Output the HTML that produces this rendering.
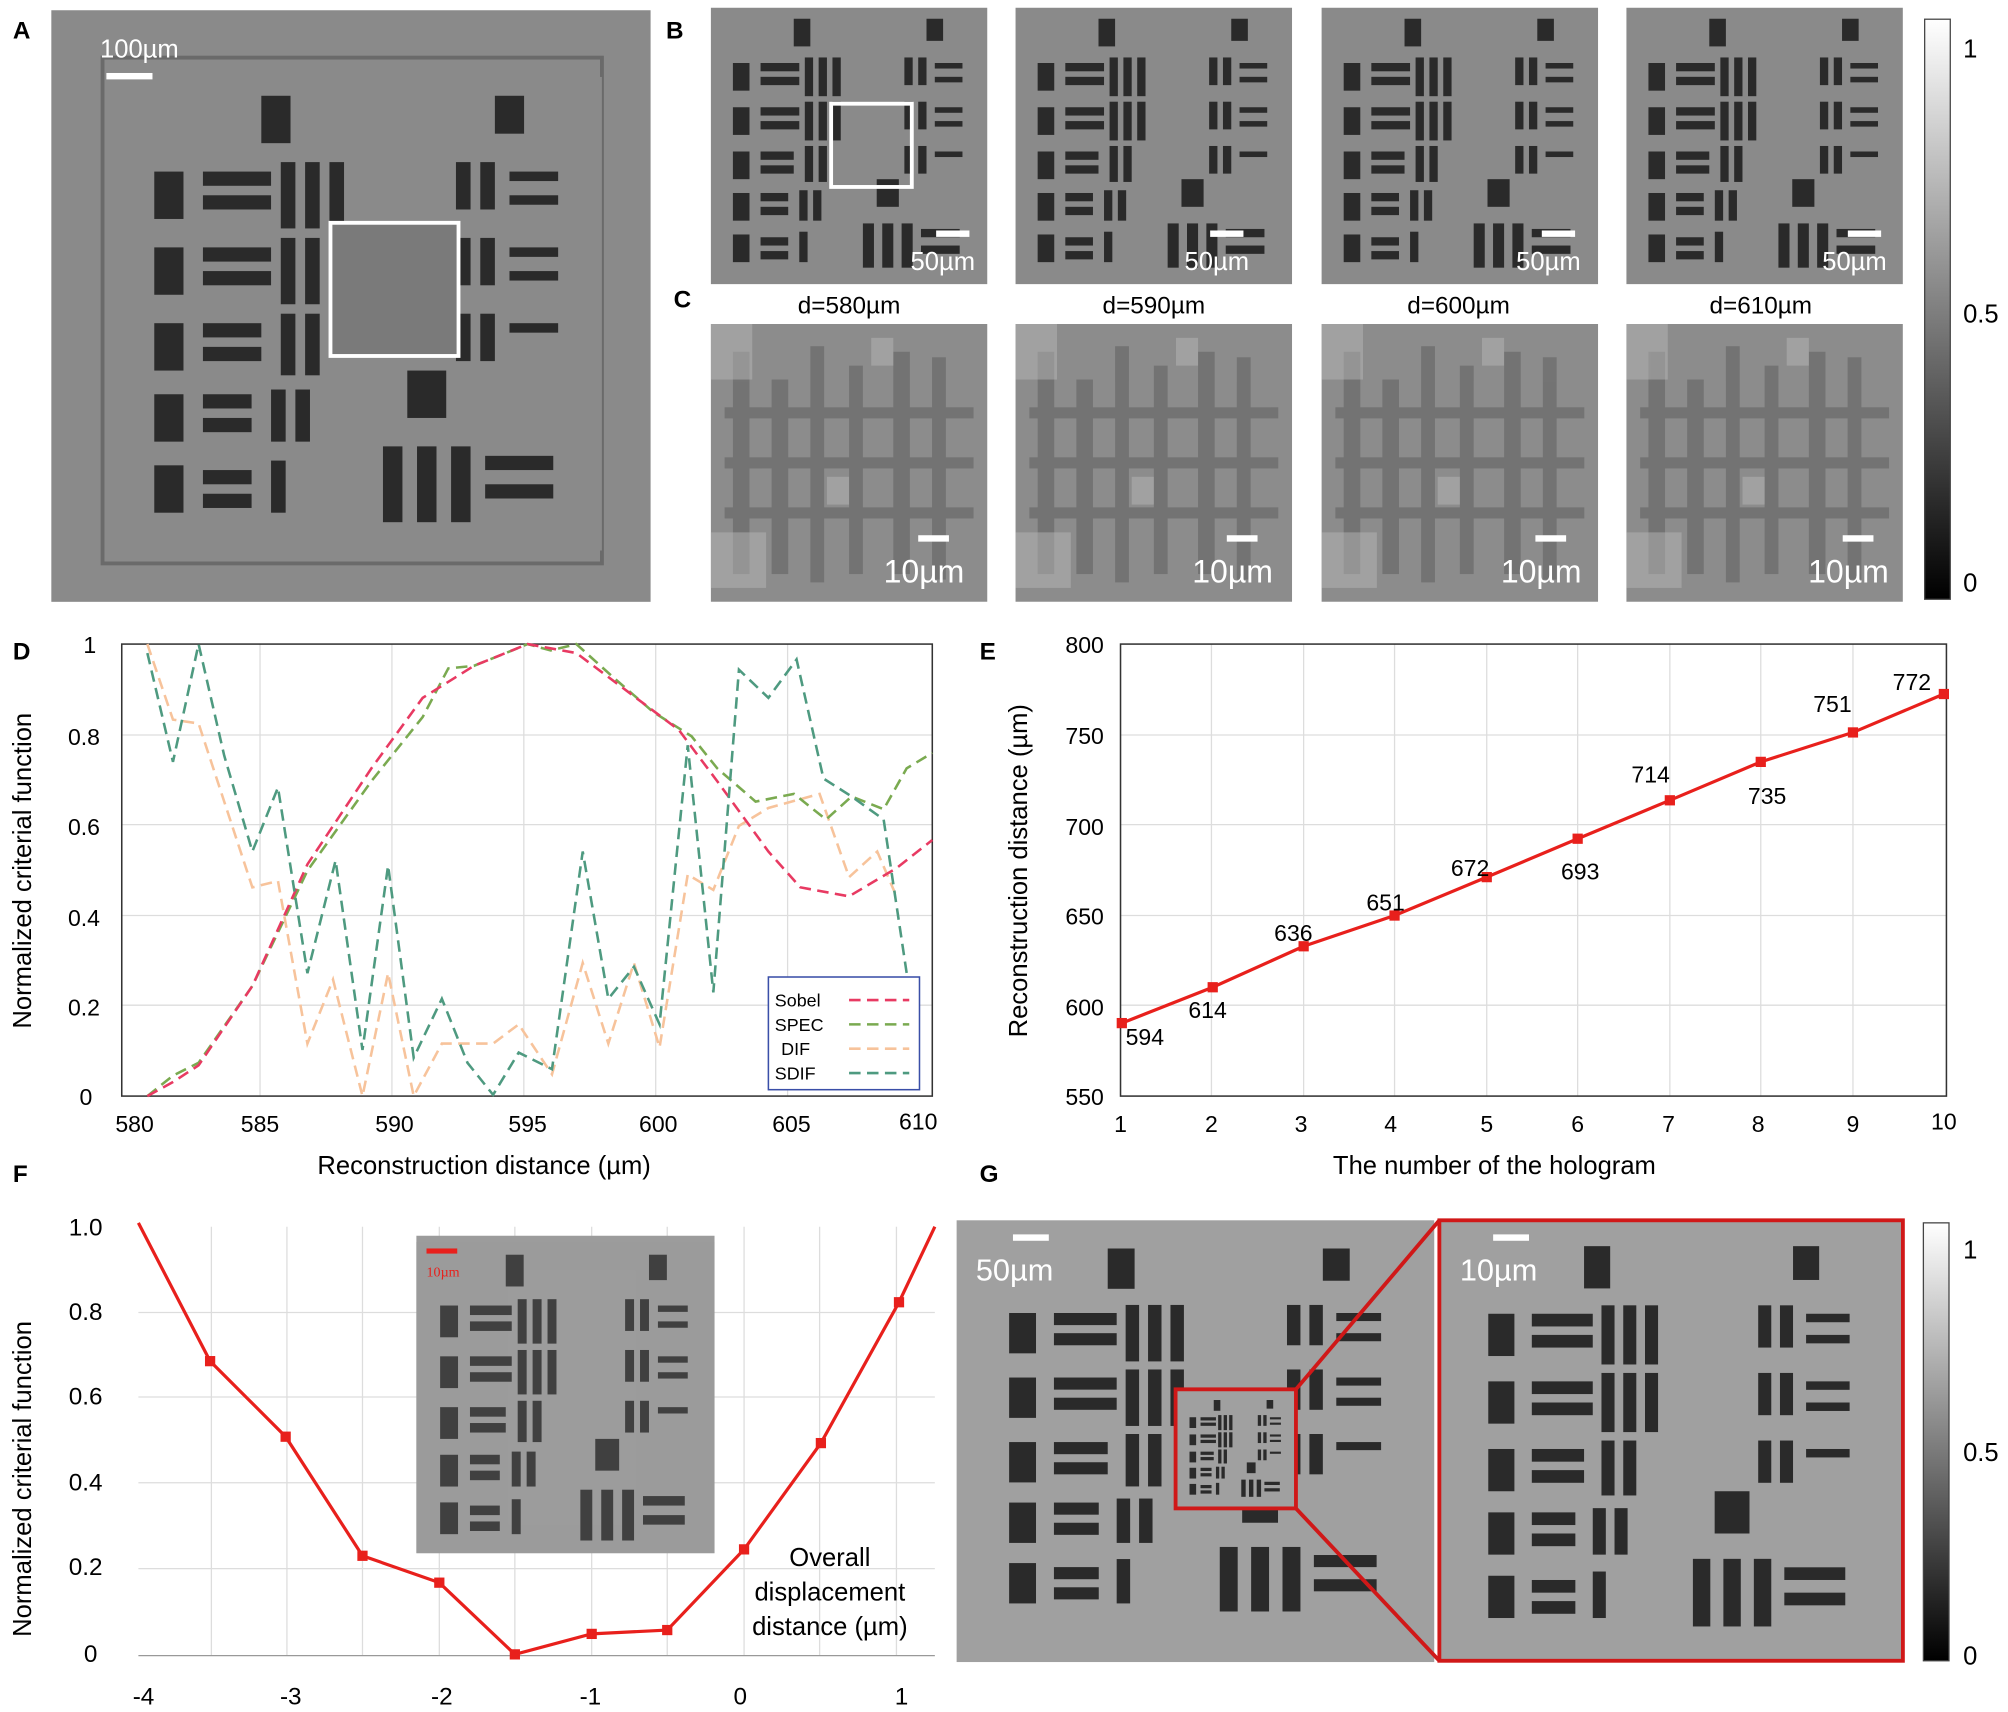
<!DOCTYPE html>
<html><head><meta charset="utf-8"><style>
html,body{margin:0;padding:0;background:#fff;}
svg{display:block;}
text{font-family:"Liberation Sans",sans-serif;}
.s{font-family:"Liberation Serif",serif;}
</style></head><body>
<svg width="2008" height="1712" viewBox="0 0 1568 1337" xmlns="http://www.w3.org/2000/svg">
<defs>
<linearGradient id="cb" x1="0" y1="0" x2="0" y2="1"><stop offset="0" stop-color="#fff"/><stop offset="1" stop-color="#000"/></linearGradient>
<g id="usaf">
 <rect x="0" y="0" width="100" height="100" fill="currentColor"/>
 <g fill="#2a2a2a">
 <rect x="8" y="20" width="6" height="10"/><rect x="18" y="20" width="14" height="3"/><rect x="18" y="25" width="14" height="3"/><rect x="34" y="18" width="3" height="14"/><rect x="39" y="18" width="3" height="14"/><rect x="44" y="18" width="3" height="14"/>
 <rect x="8" y="36" width="6" height="10"/><rect x="18" y="36" width="14" height="3"/><rect x="18" y="41" width="14" height="3"/><rect x="34" y="34" width="3" height="14"/><rect x="39" y="34" width="3" height="14"/><rect x="44" y="34" width="3" height="14"/>
 <rect x="8" y="52" width="6" height="10"/><rect x="18" y="52" width="12" height="3"/><rect x="18" y="57" width="12" height="3"/><rect x="34" y="50" width="3" height="13"/><rect x="39" y="50" width="3" height="13"/>
 <rect x="8" y="67" width="6" height="10"/><rect x="18" y="67" width="10" height="3"/><rect x="18" y="72" width="10" height="3"/><rect x="32" y="66" width="3" height="11"/><rect x="37" y="66" width="3" height="11"/>
 <rect x="8" y="82" width="6" height="10"/><rect x="18" y="83" width="10" height="3"/><rect x="18" y="88" width="10" height="3"/><rect x="32" y="81" width="3" height="11"/>
 <rect x="30" y="4" width="6" height="10"/>
 <rect x="70" y="18" width="3" height="10"/><rect x="75" y="18" width="3" height="10"/><rect x="81" y="20" width="10" height="2"/><rect x="81" y="25" width="10" height="2"/>
 <rect x="70" y="34" width="3" height="10"/><rect x="75" y="34" width="3" height="10"/><rect x="81" y="36" width="10" height="2"/><rect x="81" y="41" width="10" height="2"/>
 <rect x="70" y="50" width="3" height="10"/><rect x="75" y="50" width="3" height="10"/><rect x="81" y="52" width="10" height="2"/>
 <rect x="55" y="78" width="4" height="16"/><rect x="62" y="78" width="4" height="16"/><rect x="69" y="78" width="4" height="16"/><rect x="76" y="80" width="14" height="3"/><rect x="76" y="86" width="14" height="3"/>
 <rect x="60" y="62" width="8" height="10"/><rect x="78" y="4" width="6" height="8"/>
 </g>
</g>
<g id="blur"><rect x="0" y="0" width="100" height="100" fill="#8c8c8c"/>
 <g fill="#606060" opacity="0.55">
 <rect x="8" y="10" width="6" height="80"/><rect x="22" y="20" width="6" height="70"/><rect x="36" y="8" width="5" height="85"/><rect x="50" y="15" width="5" height="75"/><rect x="66" y="10" width="6" height="80"/><rect x="80" y="12" width="5" height="80"/>
 <rect x="5" y="30" width="90" height="4"/><rect x="5" y="48" width="90" height="4"/><rect x="5" y="66" width="90" height="4"/></g>
 <g fill="#b5b5b5" opacity="0.5">
 <rect x="0" y="0" width="15" height="20"/><rect x="58" y="5" width="8" height="10"/><rect x="0" y="75" width="20" height="20"/><rect x="42" y="55" width="8" height="10"/></g>
</g>
</defs>

<!-- Panel A -->
<text x="10" y="30" font-size="19" font-weight="bold">A</text>
<rect x="40" y="8" width="468" height="462" fill="#8a8a8a"/>
<rect x="80" y="45" width="390" height="395" fill="none" stroke="#6a6a6a" stroke-width="3"/>
<svg x="90" y="60" width="380" height="370" viewBox="0 0 100 100" preserveAspectRatio="none" style="color:#8a8a8a"><use href="#usaf"/></svg>
<rect x="258" y="174" width="100" height="104" fill="#7a7a7a" stroke="#fff" stroke-width="3"/>
<rect x="83" y="57" width="36" height="5" fill="#fff"/>
<text x="78" y="45" font-size="20" fill="#fff">100µm</text>

<!-- Panel B / C -->
<text x="520" y="30" font-size="19" font-weight="bold">B</text>
<text x="526" y="240" font-size="19" font-weight="bold">C</text>
<g style="color:#8a8a8a">
<svg x="555" y="6" width="216" height="216" viewBox="0 0 100 100" preserveAspectRatio="none"><use href="#usaf"/></svg>
<svg x="793" y="6" width="216" height="216" viewBox="0 0 100 100" preserveAspectRatio="none"><use href="#usaf"/></svg>
<svg x="1032" y="6" width="216" height="216" viewBox="0 0 100 100" preserveAspectRatio="none"><use href="#usaf"/></svg>
<svg x="1270" y="6" width="216" height="216" viewBox="0 0 100 100" preserveAspectRatio="none"><use href="#usaf"/></svg>
</g>
<rect x="649" y="81" width="63" height="65" fill="none" stroke="#fff" stroke-width="3"/>
<g fill="#fff" font-size="20">
<rect x="731" y="180" width="26" height="5"/><text x="711" y="211">50µm</text>
<rect x="945" y="180" width="26" height="5"/><text x="925" y="211">50µm</text>
<rect x="1204" y="180" width="26" height="5"/><text x="1184" y="211">50µm</text>
<rect x="1443" y="180" width="26" height="5"/><text x="1423" y="211">50µm</text>
</g>
<g font-size="19" text-anchor="middle">
<text x="663" y="245">d=580µm</text><text x="901" y="245">d=590µm</text><text x="1139" y="245">d=600µm</text><text x="1375" y="245">d=610µm</text>
</g>
<svg x="555" y="253" width="216" height="217" viewBox="0 0 100 100" preserveAspectRatio="none"><use href="#blur"/></svg>
<svg x="793" y="253" width="216" height="217" viewBox="0 0 100 100" preserveAspectRatio="none"><use href="#blur"/></svg>
<svg x="1032" y="253" width="216" height="217" viewBox="0 0 100 100" preserveAspectRatio="none"><use href="#blur"/></svg>
<svg x="1270" y="253" width="216" height="217" viewBox="0 0 100 100" preserveAspectRatio="none"><use href="#blur"/></svg>
<g fill="#fff" font-size="25">
<rect x="717" y="418" width="24" height="5"/><text x="690" y="455">10µm</text>
<rect x="958" y="418" width="24" height="5"/><text x="931" y="455">10µm</text>
<rect x="1199" y="418" width="24" height="5"/><text x="1172" y="455">10µm</text>
<rect x="1439" y="418" width="24" height="5"/><text x="1412" y="455">10µm</text>
</g>
<rect x="1503" y="15" width="20" height="453" fill="url(#cb)" stroke="#444" stroke-width="1"/>
<g font-size="20"><text x="1533" y="45">1</text><text x="1533" y="252">0.5</text><text x="1533" y="462">0</text></g>

<!-- Panel D -->
<text x="10" y="515" font-size="19" font-weight="bold">D</text>
<g stroke="#ddd" stroke-width="1">
<line x1="95" y1="574" x2="728" y2="574"/><line x1="95" y1="644" x2="728" y2="644"/><line x1="95" y1="715" x2="728" y2="715"/><line x1="95" y1="785" x2="728" y2="785"/>
<line x1="203" y1="503" x2="203" y2="856"/><line x1="306" y1="503" x2="306" y2="856"/><line x1="409" y1="503" x2="409" y2="856"/><line x1="512" y1="503" x2="512" y2="856"/><line x1="615" y1="503" x2="615" y2="856"/>
</g>
<rect x="95" y="503" width="633" height="353" fill="none" stroke="#333" stroke-width="1.2"/>
<g font-size="18" text-anchor="end"><text x="75" y="510">1</text><text x="78" y="582">0.8</text><text x="78" y="652">0.6</text><text x="78" y="723">0.4</text><text x="78" y="793">0.2</text><text x="72" y="863">0</text></g>
<g font-size="18" text-anchor="middle"><text x="105" y="884">580</text><text x="203" y="884">585</text><text x="308" y="884">590</text><text x="412" y="884">595</text><text x="514" y="884">600</text><text x="618" y="884">605</text><text x="717" y="882">610</text></g>
<text x="378" y="917" font-size="20" text-anchor="middle">Reconstruction distance (µm)</text>
<text transform="translate(24,680) rotate(-90)" font-size="20" text-anchor="middle">Normalized criterial function</text>
<g fill="none" stroke-width="2" stroke-dasharray="9,5">
<polyline stroke="#f7c39b" points="115,503 135,562 155,565 197,693 217,688 240,815 260,765 283,856 303,760 323,856 345,815 385,815 405,800 431,839 455,752 475,815 495,752 515,818 537,683 557,695 577,645 600,631 640,620 663,685 685,665 700,700"/>
<polyline stroke="#7aaa50" points="115,856 135,840 155,830 197,770 240,680 290,610 330,560 350,522 370,520 390,512 412,503 430,508 450,503 480,530 510,556 540,575 560,600 590,626 620,620 645,640 665,622 690,632 708,600 728,588"/>
<polyline stroke="#e83a62" points="115,856 135,845 155,832 197,770 240,675 290,600 330,545 370,520 412,503 450,510 490,540 530,570 560,610 600,665 625,693 663,700 700,678 728,656"/>
<polyline stroke="#4e9a80" points="115,510 135,595 155,503 175,590 197,665 217,615 240,760 262,672 283,820 303,676 323,826 345,780 365,830 385,855 405,822 431,835 455,665 475,780 495,755 515,800 537,582 557,775 577,523 600,545 622,515 643,608 665,622 690,640 708,760"/>
</g>
<rect x="600" y="763" width="118" height="88" fill="#fff" stroke="#3a4fa8" stroke-width="1.2"/>
<g class="s" font-size="14"><text x="605" y="786">Sobel</text><text x="605" y="805">SPEC</text><text x="610" y="824">DIF</text><text x="605" y="843">SDIF</text></g>
<g stroke-width="2" stroke-dasharray="9,5"><line x1="663" y1="781" x2="710" y2="781" stroke="#e83a62"/><line x1="663" y1="800" x2="710" y2="800" stroke="#7aaa50"/><line x1="663" y1="819" x2="710" y2="819" stroke="#f7c39b"/><line x1="663" y1="838" x2="710" y2="838" stroke="#4e9a80"/></g>

<!-- Panel E -->
<text x="765" y="515" font-size="19" font-weight="bold">E</text>
<g stroke="#ddd" stroke-width="1">
<line x1="875" y1="574" x2="1520" y2="574"/><line x1="875" y1="644" x2="1520" y2="644"/><line x1="875" y1="715" x2="1520" y2="715"/><line x1="875" y1="785" x2="1520" y2="785"/>
<line x1="946" y1="503" x2="946" y2="856"/><line x1="1018" y1="503" x2="1018" y2="856"/><line x1="1089" y1="503" x2="1089" y2="856"/><line x1="1161" y1="503" x2="1161" y2="856"/><line x1="1232" y1="503" x2="1232" y2="856"/><line x1="1304" y1="503" x2="1304" y2="856"/><line x1="1375" y1="503" x2="1375" y2="856"/><line x1="1447" y1="503" x2="1447" y2="856"/>
</g>
<rect x="875" y="503" width="645" height="353" fill="none" stroke="#333" stroke-width="1.2"/>
<g font-size="18" text-anchor="end"><text x="862" y="510">800</text><text x="862" y="581">750</text><text x="862" y="652">700</text><text x="862" y="722">650</text><text x="862" y="793">600</text><text x="862" y="863">550</text></g>
<g font-size="18" text-anchor="middle"><text x="875" y="884">1</text><text x="946" y="884">2</text><text x="1016" y="884">3</text><text x="1086" y="884">4</text><text x="1161" y="884">5</text><text x="1232" y="884">6</text><text x="1303" y="884">7</text><text x="1373" y="884">8</text><text x="1447" y="884">9</text><text x="1518" y="882">10</text></g>
<text x="1167" y="917" font-size="20" text-anchor="middle">The number of the hologram</text>
<text transform="translate(802,680) rotate(-90)" font-size="20" text-anchor="middle">Reconstruction distance (µm)</text>
<polyline fill="none" stroke="#e8201c" stroke-width="2.5" points="876,799 947,771 1018,739 1089,715 1161,685 1232,655 1304,625 1375,595 1447,572 1518,542"/>
<g fill="#e8201c"><rect x="872" y="795" width="8" height="8"/><rect x="943" y="767" width="8" height="8"/><rect x="1014" y="735" width="8" height="8"/><rect x="1085" y="711" width="8" height="8"/><rect x="1157" y="681" width="8" height="8"/><rect x="1228" y="651" width="8" height="8"/><rect x="1300" y="621" width="8" height="8"/><rect x="1371" y="591" width="8" height="8"/><rect x="1443" y="568" width="8" height="8"/><rect x="1514" y="538" width="8" height="8"/></g>
<g font-size="18" text-anchor="middle"><text x="894" y="816">594</text><text x="943" y="795">614</text><text x="1010" y="735">636</text><text x="1082" y="711">651</text><text x="1148" y="684">672</text><text x="1234" y="687">693</text><text x="1289" y="611">714</text><text x="1380" y="628">735</text><text x="1431" y="556">751</text><text x="1493" y="539">772</text></g>

<!-- Panel F -->
<text x="10" y="923" font-size="19" font-weight="bold">F</text>
<g stroke="#ddd" stroke-width="1">
<line x1="108" y1="1025" x2="730" y2="1025"/><line x1="108" y1="1091" x2="730" y2="1091"/><line x1="108" y1="1158" x2="730" y2="1158"/><line x1="108" y1="1225" x2="730" y2="1225"/>
<line x1="165" y1="958" x2="165" y2="1293"/><line x1="224" y1="958" x2="224" y2="1293"/><line x1="283" y1="958" x2="283" y2="1293"/><line x1="343" y1="958" x2="343" y2="1293"/><line x1="402" y1="958" x2="402" y2="1293"/><line x1="462" y1="958" x2="462" y2="1293"/><line x1="521" y1="958" x2="521" y2="1293"/><line x1="581" y1="958" x2="581" y2="1293"/><line x1="640" y1="958" x2="640" y2="1293"/><line x1="700" y1="958" x2="700" y2="1293"/>
</g>
<line x1="108" y1="1293" x2="730" y2="1293" stroke="#999"/>
<g class="s" font-size="19" text-anchor="end"><text x="80" y="965">1.0</text><text x="80" y="1031">0.8</text><text x="80" y="1097">0.6</text><text x="80" y="1164">0.4</text><text x="80" y="1230">0.2</text><text x="76" y="1298">0</text></g>
<g class="s" font-size="19" text-anchor="middle"><text x="112" y="1331">-4</text><text x="227" y="1331">-3</text><text x="345" y="1331">-2</text><text x="461" y="1331">-1</text><text x="578" y="1331">0</text><text x="704" y="1331">1</text></g>
<text transform="translate(24,1155) rotate(-90)" font-size="20" text-anchor="middle">Normalized criterial function</text>
<svg x="325" y="965" width="233" height="248" viewBox="0 0 100 100" preserveAspectRatio="none" style="color:#9c9c9c"><rect width="100" height="100" fill="#9c9c9c"/><g transform="translate(0,2)" opacity="0.8"><use href="#usaf"/></g></svg>
<rect x="333" y="975" width="24" height="4" fill="#e8201c"/>
<text x="333" y="997" class="s" font-size="11" fill="#e8201c">10µm</text>
<polyline fill="none" stroke="#e8201c" stroke-width="2.5" points="108,955 164,1063 223,1122 283,1215 343,1236 402,1292 462,1276 521,1273 581,1210 641,1127 702,1017 730,958"/>
<g fill="#e8201c"><rect x="160" y="1059" width="8" height="8"/><rect x="219" y="1118" width="8" height="8"/><rect x="279" y="1211" width="8" height="8"/><rect x="339" y="1232" width="8" height="8"/><rect x="398" y="1288" width="8" height="8"/><rect x="458" y="1272" width="8" height="8"/><rect x="517" y="1269" width="8" height="8"/><rect x="577" y="1206" width="8" height="8"/><rect x="637" y="1123" width="8" height="8"/><rect x="698" y="1013" width="8" height="8"/></g>
<g font-size="20" text-anchor="middle"><text x="648" y="1223">Overall</text><text x="648" y="1250">displacement</text><text x="648" y="1277">distance (µm)</text></g>

<!-- Panel G -->
<text x="765" y="923" font-size="19" font-weight="bold">G</text>
<rect x="747" y="953" width="373" height="345" fill="#a0a0a0"/>
<svg x="760" y="975" width="350" height="315" viewBox="0 0 100 100" preserveAspectRatio="none" style="color:#a0a0a0"><g transform="translate(0,-4)"><use href="#usaf"/></g></svg>
<rect x="918" y="1085" width="94" height="93" fill="#a0a0a0" stroke="#d01818" stroke-width="3"/>
<svg x="922" y="1090" width="86" height="84" viewBox="0 0 100 100" preserveAspectRatio="none" style="color:#a0a0a0"><use href="#usaf"/></svg>
<rect x="1124" y="953" width="362" height="344" fill="#a0a0a0" stroke="#d01818" stroke-width="3"/>
<svg x="1135" y="960" width="340" height="330" viewBox="0 0 100 100" preserveAspectRatio="none" style="color:#a0a0a0"><use href="#usaf"/></svg>
<line x1="1012" y1="1085" x2="1124" y2="953" stroke="#d01818" stroke-width="3"/>
<line x1="1012" y1="1178" x2="1124" y2="1297" stroke="#d01818" stroke-width="3"/>
<rect x="791" y="964" width="28" height="5" fill="#fff"/><text x="762" y="1000" font-size="24" fill="#fff">50µm</text>
<rect x="1166" y="964" width="28" height="5" fill="#fff"/><text x="1140" y="1000" font-size="24" fill="#fff">10µm</text>
<rect x="1502" y="955" width="20" height="342" fill="url(#cb)" stroke="#444" stroke-width="1"/>
<g font-size="20"><text x="1533" y="983">1</text><text x="1533" y="1141">0.5</text><text x="1533" y="1300">0</text></g>
</svg>
</body></html>
